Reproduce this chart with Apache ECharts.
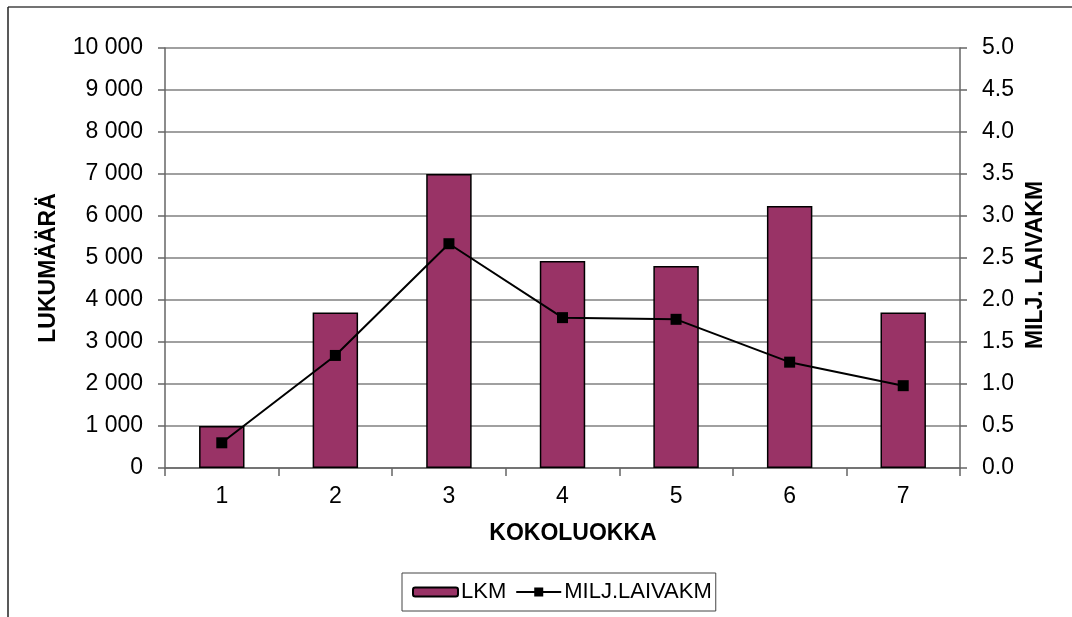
<!DOCTYPE html>
<html>
<head>
<meta charset="utf-8">
<script src="https://cdn.jsdelivr.net/npm/echarts@6/dist/echarts.min.js"></script>
<style>
  html, body { margin: 0; padding: 0; background: #fff; }
  #chart { width: 1072px; height: 617px; }
</style>
</head>
<body>
<div id="chart"></div>
<script>
// Size classes and their counts / vessel-kilometres
const categories = ['1', '2', '3', '4', '5', '6', '7'];
const lkmValues = [1000, 3700, 7000, 4930, 4810, 6240, 3700];
const laivakmValues = [0.30, 1.34, 2.67, 1.79, 1.77, 1.26, 0.98];

const seriesNames = ['LKM', 'MILJ.LAIVAKM'];
const xAxisTitle = 'KOKOLUOKKA';
const leftAxisTitle = 'LUKUMÄÄRÄ';
const rightAxisTitle = 'MILJ. LAIVAKM';

const FONT = '"Liberation Sans", Arial, sans-serif';
const GRID_GREY = '#808080';
const AXIS_GREY = '#666666';
const LABEL_SIZE = 23;

function thousands(v) {
  return String(v).replace(/\B(?=(\d{3})+(?!\d))/g, ' ');
}

const chart = echarts.init(document.getElementById('chart'), null, { renderer: 'canvas' });

chart.setOption({
  backgroundColor: '#ffffff',
  animation: false,
  grid: { left: 165, right: 112, top: 48, bottom: 149 },
  legend: {
    left: 402,
    top: 573,
    padding: [8, 4, 8, 10],
    itemGap: 10,
    itemWidth: 45,
    itemHeight: 9,
    borderColor: '#444',
    borderWidth: 1,
    textStyle: { fontFamily: FONT, fontSize: 22, color: '#000', padding: [0, 0, 0, -2] },
    data: [
      { name: seriesNames[0] },
      // line with a square marker in the middle
      { name: seriesNames[1], icon: 'path://M0,3.6 H45 V5.4 H0 Z M18,0 H27 V9 H18 Z' }
    ]
  },
  xAxis: {
    type: 'category',
    data: categories,
    boundaryGap: true,
    axisLine: { show: true, lineStyle: { color: AXIS_GREY, width: 1.5 } },
    axisTick: { show: true, length: 8, alignWithLabel: false, lineStyle: { color: AXIS_GREY, width: 1.5 } },
    axisLabel: { margin: 17, fontFamily: FONT, fontSize: LABEL_SIZE, color: '#000' },
    splitLine: { show: false }
  },
  yAxis: [
    {
      type: 'value',
      min: 0,
      max: 10000,
      interval: 1000,
      axisLine: { show: true, lineStyle: { color: AXIS_GREY, width: 1.5 } },
      axisTick: { show: true, length: 7, lineStyle: { color: AXIS_GREY, width: 1.5 } },
      axisLabel: { margin: 22, fontFamily: FONT, fontSize: LABEL_SIZE, color: '#000', formatter: thousands },
      splitLine: { show: true, lineStyle: { color: GRID_GREY, width: 1.5 } }
    },
    {
      type: 'value',
      position: 'right',
      min: 0,
      max: 5,
      interval: 0.5,
      axisLine: { show: true, lineStyle: { color: AXIS_GREY, width: 1.5 } },
      axisTick: { show: true, length: 7, lineStyle: { color: AXIS_GREY, width: 1.5 } },
      axisLabel: { margin: 22, fontFamily: FONT, fontSize: LABEL_SIZE, color: '#000', formatter: v => v.toFixed(1) },
      splitLine: { show: false }
    }
  ],
  series: [
    {
      name: seriesNames[0],
      type: 'bar',
      yAxisIndex: 0,
      data: lkmValues,
      barWidth: '40%',
      itemStyle: { color: '#993366', borderColor: '#000', borderWidth: 1.5 }
    },
    {
      name: seriesNames[1],
      type: 'line',
      yAxisIndex: 1,
      data: laivakmValues,
      symbol: 'rect',
      symbolSize: 11,
      itemStyle: { color: '#000' },
      lineStyle: { color: '#000', width: 2 },
      z: 5
    }
  ],
  graphic: [
    // frame edges
    { type: 'line', shape: { x1: 8, y1: 7, x2: 1072, y2: 7 }, style: { stroke: '#444', lineWidth: 1.5 } },
    { type: 'line', shape: { x1: 8, y1: 7, x2: 8, y2: 617 }, style: { stroke: '#222', lineWidth: 1.5 } },
    // axis titles
    {
      type: 'text', x: 573, y: 534,
      style: { text: xAxisTitle, font: 'bold 23px ' + FONT, fill: '#000', align: 'center', verticalAlign: 'middle' }
    },
    {
      type: 'text', x: 49, y: 268, rotation: Math.PI / 2,
      style: { text: leftAxisTitle, font: 'bold 23px ' + FONT, fill: '#000', align: 'center', verticalAlign: 'middle' }
    },
    {
      type: 'text', x: 1036, y: 265, rotation: Math.PI / 2,
      style: { text: rightAxisTitle, font: 'bold 23px ' + FONT, fill: '#000', align: 'center', verticalAlign: 'middle' }
    }
  ]
});
</script>
</body>
</html>
